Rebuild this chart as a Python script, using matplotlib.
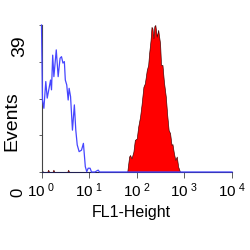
import numpy as np
import matplotlib
matplotlib.use("Agg")
import matplotlib.pyplot as plt

# fonts: narrow Arial-like face, fall back to regular
plt.rcParams['font.family'] = ['Liberation Sans Narrow', 'Liberation Sans', 'DejaVu Sans']
plt.rcParams['mathtext.fontset'] = 'custom'
plt.rcParams['mathtext.rm'] = 'Liberation Sans'

# unstained control (blue outline), position in decades of FL1-Height
blue_dec = [0.0, 0.02, 0.05, 0.09, 0.12, 0.16, 0.19, 0.21, 0.235, 0.26, 0.31, 0.35,
            0.39, 0.42, 0.45, 0.48, 0.50, 0.53, 0.56, 0.58, 0.61, 0.65, 0.69, 0.72,
            0.75, 0.79, 0.84, 0.88, 0.92, 0.95, 0.98, 1.02, 1.05, 1.12, 1.19, 1.22, 4.0]
blue_cnt = [39, 19.1, 16.9, 24, 19.6, 22.3, 24.4, 21.8, 31, 25.3, 32.4, 25.3,
            30.2, 30.6, 28.9, 29.3, 24.4, 23.1, 19.1, 22.2, 20, 11.1, 17.8, 11.1,
            7.2, 5.4, 5.8, 7.6, 1.4, 0.1, 1, 1, 0, 0, 0.5, 0, 0]

# stained sample (red filled)
red_dec = [0.0, 0.01, 0.03, 0.12, 0.14, 0.16, 0.23, 0.25, 0.27, 0.54, 0.56, 0.58,
           1.80, 1.84, 1.86, 1.89, 1.93, 1.96, 2.00, 2.03, 2.07, 2.10, 2.14, 2.17,
           2.21, 2.24, 2.26, 2.29, 2.31, 2.33, 2.35, 2.37, 2.39, 2.42, 2.45, 2.49,
           2.51, 2.54, 2.57, 2.61, 2.64, 2.67, 2.70, 2.73, 2.75, 2.78, 2.81, 2.84,
           2.87, 2.91, 2.97, 4.0]
red_cnt = [0.6, 0.6, 0, 0, 0.6, 0, 0, 0.6, 0, 0, 0.6, 0,
           0, 4.1, 4.5, 3.6, 5.4, 8.5, 8.9, 12, 14.7, 17.8, 22.6, 23.5,
           27, 28.4, 31.5, 35, 38.5, 38.1, 35.5, 38.7, 39, 35.9, 37.7, 34.1,
           28.4, 28.4, 24, 20, 15.1, 11.1, 10.3, 7.2, 7.4, 5, 3.2, 4.1,
           1.4, 0, 0, 0]

xtick_dec = [0, 1, 2, 3, 4]
xtick_labels = [r'$\mathdefault{10^{\ %d}}$' % d for d in xtick_dec]

fig = plt.figure(figsize=(2.5, 2.5), dpi=100)
ax = fig.add_axes([0.166, 0.312, 0.762, 0.588])

red_x = np.power(10.0, red_dec)
blue_x = np.power(10.0, blue_dec)
ax.fill_between(red_x, 0, red_cnt, facecolor='#ff0000', edgecolor='#3a0000', linewidth=0.45, zorder=2)
ax.plot(blue_x, blue_cnt, color='#4646ff', linewidth=0.9, zorder=3, clip_on=False)

ax.set_xscale('log')
ax.set_xlim(1, 1e4)
ax.set_ylim(0, 39)

ax.spines['top'].set_visible(False)
ax.spines['right'].set_visible(False)
ax.spines['left'].set_color('#444444')
ax.spines['bottom'].set_color('#202050')
ax.spines['left'].set_linewidth(0.8)
ax.spines['bottom'].set_linewidth(0.8)

ax.set_xticks(np.power(10.0, xtick_dec))
ax.set_xticklabels(xtick_labels, fontsize=11)
ax.tick_params(axis='x', which='major', length=4, width=0.6, color='#444444', pad=3)
ax.tick_params(axis='x', which='minor', length=3, width=0.6, color='#444444')
ax.set_yticks(np.linspace(0, 39, 5))
ax.set_yticklabels([])
ax.tick_params(axis='y', length=2, width=0.6, color='#444444')

# y labels are placed loosely like in the original
fig.text(20 / 250, 1 - 46 / 250, '39', rotation=90, ha='center', va='center', fontsize=14)
fig.text(18 / 250, 1 - 192 / 250, '0', rotation=90, ha='center', va='center', fontsize=12)
fig.text(12 / 250, 1 - 121 / 250, 'Events', rotation=90, ha='center', va='center', fontsize=14)
fig.text(131 / 250, 1 - 213 / 250, 'FL1-Height', ha='center', va='center', fontsize=11.5)

fig.savefig('out.png', dpi=100, facecolor='white')
